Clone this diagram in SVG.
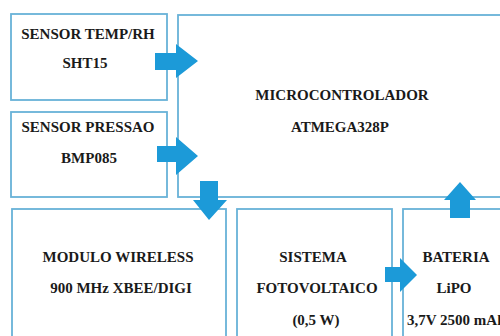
<svg xmlns="http://www.w3.org/2000/svg" width="500" height="336" viewBox="0 0 500 336">
<style>
.box{fill:#ffffff;stroke:#68b2d8;stroke-width:1.8}
.lbl{font-family:"Liberation Serif","Times New Roman",serif;font-weight:bold;font-size:15px;fill:#1a1a1a;text-anchor:middle}
.arr{fill:#1c9ad8}
</style>
<rect width="500" height="336" fill="#ffffff"/>
<g id="sensor-temp">
<rect class="box" x="11" y="14" width="156" height="86"/>
<text class="lbl" x="88" y="39">SENSOR TEMP/RH</text>
<text class="lbl" x="85" y="68">SHT15</text>
</g>
<g id="sensor-pressao">
<rect class="box" x="11" y="112" width="156" height="85"/>
<text class="lbl" x="88" y="132">SENSOR PRESSAO</text>
<text class="lbl" x="89" y="163">BMP085</text>
</g>
<g id="microcontrolador">
<rect class="box" x="178" y="15" width="340" height="182"/>
<text class="lbl" x="342" y="100">MICROCONTROLADOR</text>
<text class="lbl" x="340" y="132">ATMEGA328P</text>
</g>
<g id="modulo-wireless">
<rect class="box" x="12" y="209" width="214" height="140"/>
<text class="lbl" x="118" y="262">MODULO WIRELESS</text>
<text class="lbl" x="121" y="293">900 MHz XBEE/DIGI</text>
</g>
<g id="sistema-fotovoltaico">
<rect class="box" x="237" y="209" width="155" height="140"/>
<text class="lbl" x="313" y="262">SISTEMA</text>
<text class="lbl" x="317" y="293">FOTOVOLTAICO</text>
<text class="lbl" x="316" y="325">(0,5 W)</text>
</g>
<g id="bateria">
<rect class="box" x="403" y="209" width="120" height="140"/>
<text class="lbl" x="456" y="262">BATERIA</text>
<text class="lbl" x="454" y="293">LiPO</text>
<text class="lbl" x="407" y="325" style="text-anchor:start">3,7V 2500 mAh</text>
</g>
<g id="connectors">
<polygon class="arr" points="155,53 176,53 176,44 198,61 176,78 176,70 155,70"/>
<polygon class="arr" points="157,146 176,146 176,137 198,156 176,175 176,162 157,162"/>
<polygon class="arr" points="200,181 218,181 218,200 227,200 209,220 193,200 200,200"/>
<polygon class="arr" points="450,218 470,218 470,200 476,200 460,182 444,200 450,200"/>
<polygon class="arr" points="385,267 400,267 400,258 417,275 400,292 400,282 385,282"/>
</g>
</svg>
